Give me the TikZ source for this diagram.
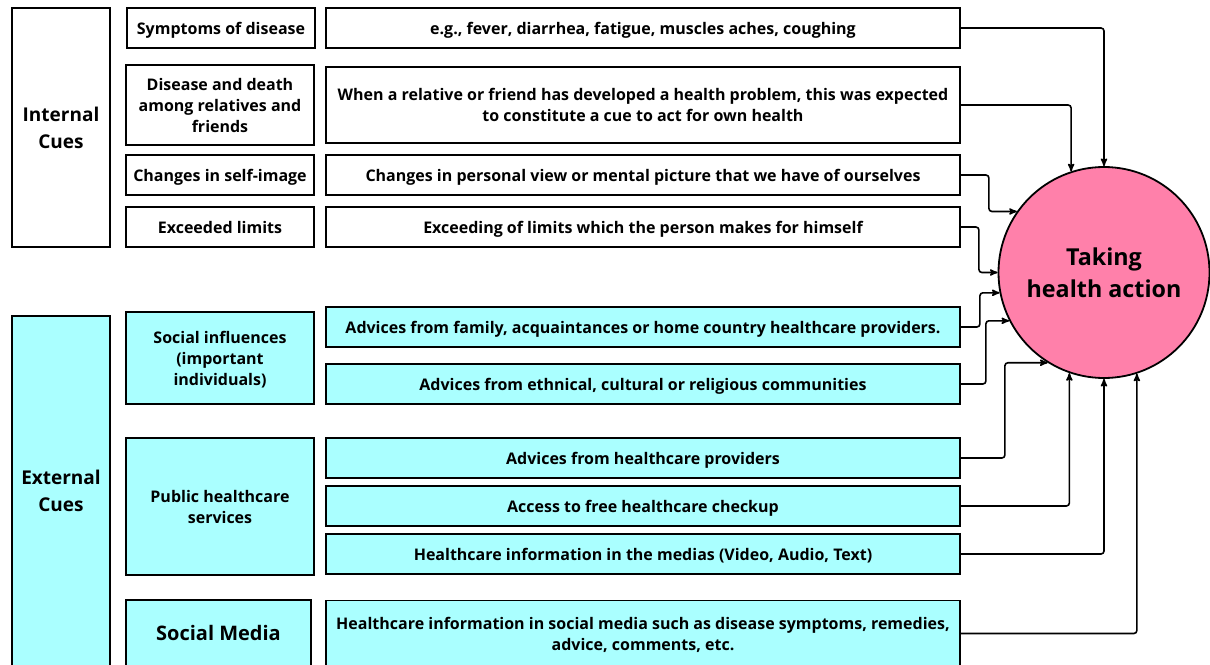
\documentclass[tikz,border=0pt]{standalone}
\usepackage{fontspec}
\setmainfont{Open Sans}
\usepackage{xcolor}
\usepackage{tikz}
\usetikzlibrary{arrows,positioning}

\definecolor{cuecyan}{RGB}{170,255,255}
\definecolor{actpink}{RGB}{255,128,170}

\begin{document}
\begin{tikzpicture}[x=1pt,y=-1pt,->,>=stealth',thick,
  cue/.style={draw,line width=1.8pt,fill=white,align=center,inner sep=0pt,text depth=0pt,
    font=\bfseries\fontsize{16}{21}\selectfont},
  ext/.style={cue,fill=cuecyan},
  bigcue/.style={font=\bfseries\fontsize{19}{27}\selectfont},
  act/.style={circle,draw,line width=1.8pt,fill=actpink,align=center,inner sep=0pt,text depth=0pt,
    minimum size=211pt,font=\bfseries\fontsize{23.3}{32}\selectfont},
  link/.style={line width=1.6pt,rounded corners=3pt}]

    \clip (0,0) rectangle (1210,664);

    % Internal cues
	\node [cue,bigcue,minimum width=98pt,minimum height=239pt] at (61,127.5) (int) {Internal\\Cues};
	\node [cue,minimum width=188pt,minimum height=40pt] at (221,28) (sym) {Symptoms of disease};
	\node [cue,minimum width=188pt,minimum height=80pt] at (220,105) (death) {Disease and death\\among relatives and\\friends};
	\node [cue,minimum width=188pt,minimum height=40pt] at (220,175) (self) {Changes in self-image};
	\node [cue,minimum width=188pt,minimum height=40pt] at (220,227) (exc) {Exceeded limits};

	\node [cue,minimum width=634pt,minimum height=40pt] at (643,28) (eg) {e.g., fever, diarrhea, fatigue, muscles aches, coughing};
	\node [cue,minimum width=634pt,minimum height=76pt] at (643,105) (when) {When a relative or friend has developed a health problem, this was expected\\to constitute a cue to act for own health};
	\node [cue,minimum width=634pt,minimum height=40pt] at (643,175) (view) {Changes in personal view or mental picture that we have of ourselves};
	\node [cue,minimum width=634pt,minimum height=40pt] at (643,227) (limits) {Exceeding of limits which the person makes for himself};

    % External cues
	\node [ext,bigcue,minimum width=98pt,minimum height=350pt] at (61,491) (extc) {External\\Cues};
	\node [ext,minimum width=188pt,minimum height=92pt] at (220,358) (soc) {Social influences\\(important\\individuals)};
	\node [ext,minimum width=188pt,minimum height=137pt] at (220,506.5) (pub) {Public healthcare\\services};
	\node [ext,bigcue,font=\bfseries\fontsize{20}{27}\selectfont,minimum width=185pt,minimum height=66pt] at (218.5,633) (smed) {Social Media};

	\node [ext,minimum width=634pt,minimum height=40pt] at (643,327) (fam) {Advices from family, acquaintances or home country healthcare providers.};
	\node [ext,minimum width=634pt,minimum height=40pt] at (643,384) (eth) {Advices from ethnical, cultural or religious communities};
	\node [ext,minimum width=634pt,minimum height=40pt] at (643,458) (prov) {Advices from healthcare providers};
	\node [ext,minimum width=634pt,minimum height=40pt] at (643,506) (free) {Access to free healthcare checkup};
	\node [ext,minimum width=634pt,minimum height=40pt] at (643,554) (media) {Healthcare information in the medias (Video, Audio, Text)};
	\node [ext,minimum width=634pt,minimum height=66pt] at (643,633.5) (sminfo) {Healthcare information in social media such as disease symptoms, remedies,\\advice, comments, etc.};

    % The action
	\node [act] at (1104,272.5) (take) {Taking\\health action};

	% Arrows into the action
	\draw [link] (eg.east) -| (take.90);
	\draw [link] (when.east) -| (take.108);
	\draw [link] (view.east) -- ++(28,0) |- (take.145);
	\draw [link] (limits.east) -- ++(18,0) |- (take.180);
	\draw [link] (fam.east) -- ++(19,0) |- (take.191);
	\draw [link] (eth.east) -- ++(25,0) |- (take.207);
	\draw [link] (prov.east) -- ++(44,0) |- (take.238);
	\draw [link] (free.east) -| (take.251);
	\draw [link] (media.east) -| (take.270);
	\draw [link] (sminfo.east) -| (take.288);

\end{tikzpicture}
\end{document}
